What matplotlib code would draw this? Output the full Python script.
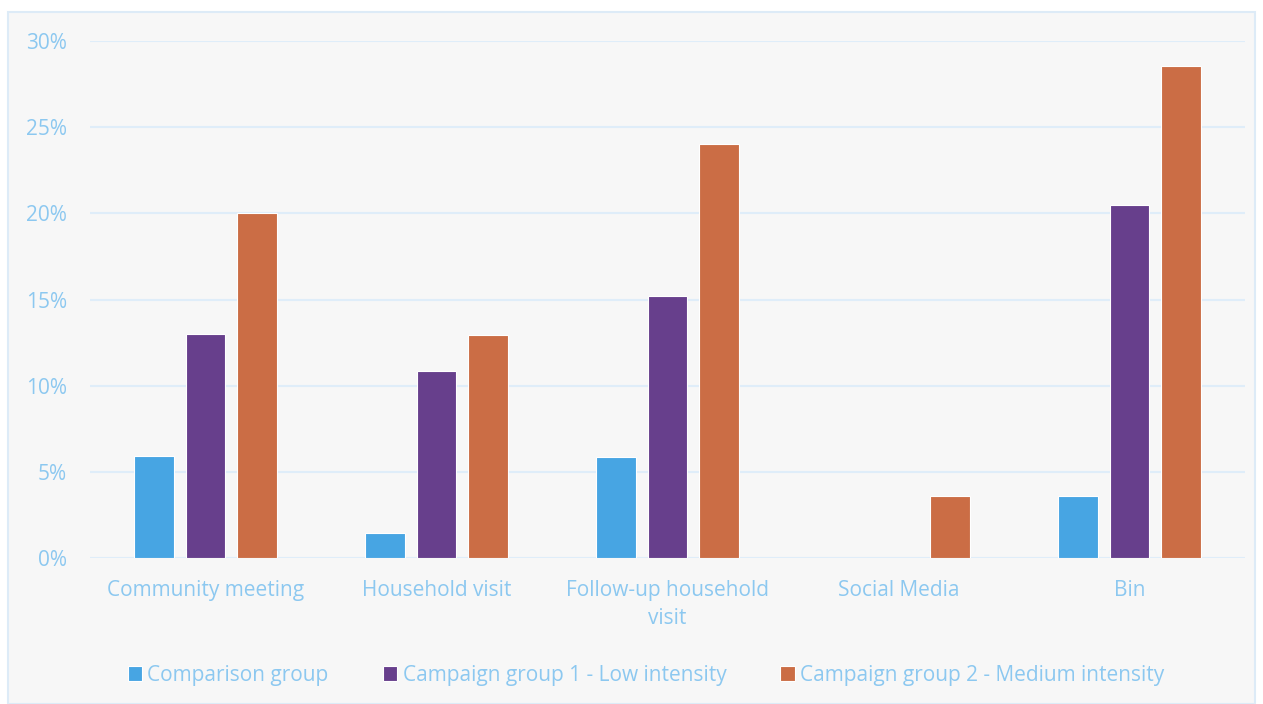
import matplotlib
matplotlib.use("Agg")
import matplotlib.pyplot as plt
import matplotlib.patches as patches
import numpy as np

# data
categories = ["Community meeting", "Household visit", "Follow-up household\nvisit",
              "Social Media", "Bin"]
comparison = [5.9, 1.45, 5.85, 0.0, 3.6]
campaign_low = [13.0, 10.85, 15.2, 0.0, 20.5]
campaign_med = [20.0, 12.95, 24.05, 3.6, 28.55]
series_names = ["Comparison group", "Campaign group 1 - Low intensity",
                "Campaign group 2 - Medium intensity"]
yticks = [0, 5, 10, 15, 20, 25, 30]

colors = ["#47A5E3", "#673F8C", "#CB6D45"]
txt = "#8CC8F0"
bg = "#F7F7F7"

plt.rcParams['font.family'] = ['Open Sans', 'DejaVu Sans']

fig = plt.figure(figsize=(12.63, 7.04), dpi=100)
fig.patch.set_facecolor("white")
# outer frame of the chart
frame = patches.Rectangle((8 / 1263, 0), 1 - 16 / 1263, 1 - 12 / 704,
                          transform=fig.transFigure, facecolor=bg,
                          edgecolor="#DDEBF7", linewidth=1.5, zorder=-5)
fig.patches.append(frame)

ax = fig.add_axes([90 / 1263, 1 - 558 / 704, 1155 / 1263, 517 / 704])
ax.set_zorder(2)
ax.patch.set_alpha(0)

x = np.arange(len(categories))
w = 0.173
step = 0.221
for i, (vals, name) in enumerate(zip([comparison, campaign_low, campaign_med], series_names)):
    ax.bar(x + (i - 1) * step, vals, width=w, color=colors[i], edgecolor="white",
           linewidth=0.8, label=name, zorder=3)

ax.set_xlim(-0.5, len(categories) - 0.5)
ax.set_ylim(0, 30)
ax.set_yticks(yticks)
ax.set_yticklabels([f"{t}%" for t in yticks])
ax.set_xticks(x)
ax.set_xticklabels(categories, linespacing=1.45)
ax.grid(axis="y", color="#DFEDF9", linewidth=1.5, zorder=0)
for s in ax.spines.values():
    s.set_visible(False)
ax.tick_params(axis="both", length=0, colors=txt, labelsize=15)
ax.tick_params(axis="y", pad=16.5)
ax.tick_params(axis="x", pad=16)

leg = fig.legend(loc="center", bbox_to_anchor=(646 / 1263, 1 - 675 / 704), ncol=3,
                 frameon=False, fontsize=15, handlelength=0.7, handleheight=0.7,
                 handletextpad=0.25, columnspacing=2.6)
for t in leg.get_texts():
    t.set_color(txt)

fig.savefig("out.png", dpi=100, facecolor=fig.get_facecolor())
